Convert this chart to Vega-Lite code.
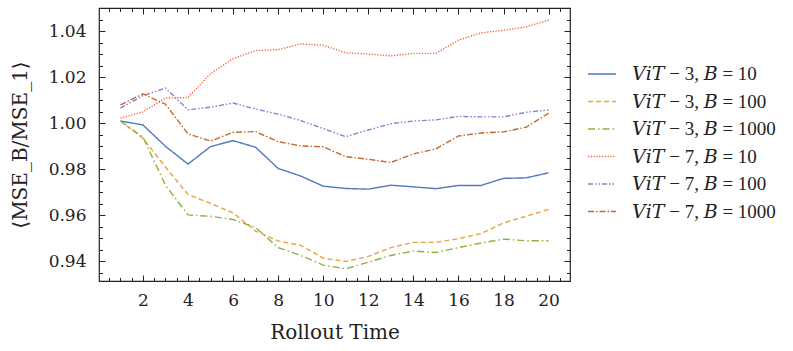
{
  "$schema": "https://vega.github.io/schema/vega-lite/v6.json",
  "width": 471,
  "height": 273,
  "autosize": {"type": "none"},
  "padding": {"left": 99, "top": 8, "right": 223, "bottom": 70},
  "background": "white",
  "config": {
    "font": "DejaVu Serif",
    "view": {"stroke": "#222222", "strokeWidth": 1.2},
    "axis": {"grid": false, "domain": false, "tickColor": "#222222", "tickWidth": 1, "labelColor": "#222222", "titleColor": "#222222", "labelFont": "DejaVu Serif", "titleFont": "DejaVu Serif", "titleFontWeight": "normal", "labelFontSize": 17, "titleFontSize": 20}
  },
  "data": {"values": [
    {"t":1,"v":1.001,"s":"𝑉𝑖𝑇 − 3, 𝐵 = 10"},{"t":2,"v":0.9993,"s":"𝑉𝑖𝑇 − 3, 𝐵 = 10"},{"t":3,"v":0.990,"s":"𝑉𝑖𝑇 − 3, 𝐵 = 10"},{"t":4,"v":0.9823,"s":"𝑉𝑖𝑇 − 3, 𝐵 = 10"},{"t":5,"v":0.9899,"s":"𝑉𝑖𝑇 − 3, 𝐵 = 10"},{"t":6,"v":0.9925,"s":"𝑉𝑖𝑇 − 3, 𝐵 = 10"},{"t":7,"v":0.9896,"s":"𝑉𝑖𝑇 − 3, 𝐵 = 10"},{"t":8,"v":0.9804,"s":"𝑉𝑖𝑇 − 3, 𝐵 = 10"},{"t":9,"v":0.9771,"s":"𝑉𝑖𝑇 − 3, 𝐵 = 10"},{"t":10,"v":0.9727,"s":"𝑉𝑖𝑇 − 3, 𝐵 = 10"},{"t":11,"v":0.9717,"s":"𝑉𝑖𝑇 − 3, 𝐵 = 10"},{"t":12,"v":0.9714,"s":"𝑉𝑖𝑇 − 3, 𝐵 = 10"},{"t":13,"v":0.9731,"s":"𝑉𝑖𝑇 − 3, 𝐵 = 10"},{"t":14,"v":0.9724,"s":"𝑉𝑖𝑇 − 3, 𝐵 = 10"},{"t":15,"v":0.9716,"s":"𝑉𝑖𝑇 − 3, 𝐵 = 10"},{"t":16,"v":0.973,"s":"𝑉𝑖𝑇 − 3, 𝐵 = 10"},{"t":17,"v":0.973,"s":"𝑉𝑖𝑇 − 3, 𝐵 = 10"},{"t":18,"v":0.9761,"s":"𝑉𝑖𝑇 − 3, 𝐵 = 10"},{"t":19,"v":0.9763,"s":"𝑉𝑖𝑇 − 3, 𝐵 = 10"},{"t":20,"v":0.9785,"s":"𝑉𝑖𝑇 − 3, 𝐵 = 10"},
    {"t":1,"v":1.001,"s":"𝑉𝑖𝑇 − 3, 𝐵 = 100"},{"t":2,"v":0.9935,"s":"𝑉𝑖𝑇 − 3, 𝐵 = 100"},{"t":3,"v":0.981,"s":"𝑉𝑖𝑇 − 3, 𝐵 = 100"},{"t":4,"v":0.9691,"s":"𝑉𝑖𝑇 − 3, 𝐵 = 100"},{"t":5,"v":0.9652,"s":"𝑉𝑖𝑇 − 3, 𝐵 = 100"},{"t":6,"v":0.9611,"s":"𝑉𝑖𝑇 − 3, 𝐵 = 100"},{"t":7,"v":0.9532,"s":"𝑉𝑖𝑇 − 3, 𝐵 = 100"},{"t":8,"v":0.9489,"s":"𝑉𝑖𝑇 − 3, 𝐵 = 100"},{"t":9,"v":0.947,"s":"𝑉𝑖𝑇 − 3, 𝐵 = 100"},{"t":10,"v":0.9414,"s":"𝑉𝑖𝑇 − 3, 𝐵 = 100"},{"t":11,"v":0.940,"s":"𝑉𝑖𝑇 − 3, 𝐵 = 100"},{"t":12,"v":0.9422,"s":"𝑉𝑖𝑇 − 3, 𝐵 = 100"},{"t":13,"v":0.946,"s":"𝑉𝑖𝑇 − 3, 𝐵 = 100"},{"t":14,"v":0.9483,"s":"𝑉𝑖𝑇 − 3, 𝐵 = 100"},{"t":15,"v":0.9483,"s":"𝑉𝑖𝑇 − 3, 𝐵 = 100"},{"t":16,"v":0.9499,"s":"𝑉𝑖𝑇 − 3, 𝐵 = 100"},{"t":17,"v":0.9521,"s":"𝑉𝑖𝑇 − 3, 𝐵 = 100"},{"t":18,"v":0.9567,"s":"𝑉𝑖𝑇 − 3, 𝐵 = 100"},{"t":19,"v":0.9596,"s":"𝑉𝑖𝑇 − 3, 𝐵 = 100"},{"t":20,"v":0.9626,"s":"𝑉𝑖𝑇 − 3, 𝐵 = 100"},
    {"t":1,"v":1.001,"s":"𝑉𝑖𝑇 − 3, 𝐵 = 1000"},{"t":2,"v":0.994,"s":"𝑉𝑖𝑇 − 3, 𝐵 = 1000"},{"t":3,"v":0.9731,"s":"𝑉𝑖𝑇 − 3, 𝐵 = 1000"},{"t":4,"v":0.9602,"s":"𝑉𝑖𝑇 − 3, 𝐵 = 1000"},{"t":5,"v":0.9596,"s":"𝑉𝑖𝑇 − 3, 𝐵 = 1000"},{"t":6,"v":0.9582,"s":"𝑉𝑖𝑇 − 3, 𝐵 = 1000"},{"t":7,"v":0.9547,"s":"𝑉𝑖𝑇 − 3, 𝐵 = 1000"},{"t":8,"v":0.946,"s":"𝑉𝑖𝑇 − 3, 𝐵 = 1000"},{"t":9,"v":0.9426,"s":"𝑉𝑖𝑇 − 3, 𝐵 = 1000"},{"t":10,"v":0.9384,"s":"𝑉𝑖𝑇 − 3, 𝐵 = 1000"},{"t":11,"v":0.9368,"s":"𝑉𝑖𝑇 − 3, 𝐵 = 1000"},{"t":12,"v":0.9397,"s":"𝑉𝑖𝑇 − 3, 𝐵 = 1000"},{"t":13,"v":0.9426,"s":"𝑉𝑖𝑇 − 3, 𝐵 = 1000"},{"t":14,"v":0.9445,"s":"𝑉𝑖𝑇 − 3, 𝐵 = 1000"},{"t":15,"v":0.9439,"s":"𝑉𝑖𝑇 − 3, 𝐵 = 1000"},{"t":16,"v":0.946,"s":"𝑉𝑖𝑇 − 3, 𝐵 = 1000"},{"t":17,"v":0.948,"s":"𝑉𝑖𝑇 − 3, 𝐵 = 1000"},{"t":18,"v":0.9497,"s":"𝑉𝑖𝑇 − 3, 𝐵 = 1000"},{"t":19,"v":0.949,"s":"𝑉𝑖𝑇 − 3, 𝐵 = 1000"},{"t":20,"v":0.949,"s":"𝑉𝑖𝑇 − 3, 𝐵 = 1000"},
    {"t":1,"v":1.0022,"s":"𝑉𝑖𝑇 − 7, 𝐵 = 10"},{"t":2,"v":1.005,"s":"𝑉𝑖𝑇 − 7, 𝐵 = 10"},{"t":3,"v":1.011,"s":"𝑉𝑖𝑇 − 7, 𝐵 = 10"},{"t":4,"v":1.0112,"s":"𝑉𝑖𝑇 − 7, 𝐵 = 10"},{"t":5,"v":1.0216,"s":"𝑉𝑖𝑇 − 7, 𝐵 = 10"},{"t":6,"v":1.0281,"s":"𝑉𝑖𝑇 − 7, 𝐵 = 10"},{"t":7,"v":1.0316,"s":"𝑉𝑖𝑇 − 7, 𝐵 = 10"},{"t":8,"v":1.032,"s":"𝑉𝑖𝑇 − 7, 𝐵 = 10"},{"t":9,"v":1.0345,"s":"𝑉𝑖𝑇 − 7, 𝐵 = 10"},{"t":10,"v":1.0339,"s":"𝑉𝑖𝑇 − 7, 𝐵 = 10"},{"t":11,"v":1.0306,"s":"𝑉𝑖𝑇 − 7, 𝐵 = 10"},{"t":12,"v":1.0301,"s":"𝑉𝑖𝑇 − 7, 𝐵 = 10"},{"t":13,"v":1.0293,"s":"𝑉𝑖𝑇 − 7, 𝐵 = 10"},{"t":14,"v":1.0304,"s":"𝑉𝑖𝑇 − 7, 𝐵 = 10"},{"t":15,"v":1.0304,"s":"𝑉𝑖𝑇 − 7, 𝐵 = 10"},{"t":16,"v":1.0361,"s":"𝑉𝑖𝑇 − 7, 𝐵 = 10"},{"t":17,"v":1.0393,"s":"𝑉𝑖𝑇 − 7, 𝐵 = 10"},{"t":18,"v":1.0404,"s":"𝑉𝑖𝑇 − 7, 𝐵 = 10"},{"t":19,"v":1.0419,"s":"𝑉𝑖𝑇 − 7, 𝐵 = 10"},{"t":20,"v":1.0448,"s":"𝑉𝑖𝑇 − 7, 𝐵 = 10"},
    {"t":1,"v":1.0066,"s":"𝑉𝑖𝑇 − 7, 𝐵 = 100"},{"t":2,"v":1.012,"s":"𝑉𝑖𝑇 − 7, 𝐵 = 100"},{"t":3,"v":1.0153,"s":"𝑉𝑖𝑇 − 7, 𝐵 = 100"},{"t":4,"v":1.0059,"s":"𝑉𝑖𝑇 − 7, 𝐵 = 100"},{"t":5,"v":1.007,"s":"𝑉𝑖𝑇 − 7, 𝐵 = 100"},{"t":6,"v":1.0088,"s":"𝑉𝑖𝑇 − 7, 𝐵 = 100"},{"t":7,"v":1.0062,"s":"𝑉𝑖𝑇 − 7, 𝐵 = 100"},{"t":8,"v":1.004,"s":"𝑉𝑖𝑇 − 7, 𝐵 = 100"},{"t":9,"v":1.0012,"s":"𝑉𝑖𝑇 − 7, 𝐵 = 100"},{"t":10,"v":0.9977,"s":"𝑉𝑖𝑇 − 7, 𝐵 = 100"},{"t":11,"v":0.9942,"s":"𝑉𝑖𝑇 − 7, 𝐵 = 100"},{"t":12,"v":0.9971,"s":"𝑉𝑖𝑇 − 7, 𝐵 = 100"},{"t":13,"v":0.9998,"s":"𝑉𝑖𝑇 − 7, 𝐵 = 100"},{"t":14,"v":1.001,"s":"𝑉𝑖𝑇 − 7, 𝐵 = 100"},{"t":15,"v":1.0015,"s":"𝑉𝑖𝑇 − 7, 𝐵 = 100"},{"t":16,"v":1.003,"s":"𝑉𝑖𝑇 − 7, 𝐵 = 100"},{"t":17,"v":1.0028,"s":"𝑉𝑖𝑇 − 7, 𝐵 = 100"},{"t":18,"v":1.0028,"s":"𝑉𝑖𝑇 − 7, 𝐵 = 100"},{"t":19,"v":1.0048,"s":"𝑉𝑖𝑇 − 7, 𝐵 = 100"},{"t":20,"v":1.0058,"s":"𝑉𝑖𝑇 − 7, 𝐵 = 100"},
    {"t":1,"v":1.008,"s":"𝑉𝑖𝑇 − 7, 𝐵 = 1000"},{"t":2,"v":1.0128,"s":"𝑉𝑖𝑇 − 7, 𝐵 = 1000"},{"t":3,"v":1.0083,"s":"𝑉𝑖𝑇 − 7, 𝐵 = 1000"},{"t":4,"v":0.9954,"s":"𝑉𝑖𝑇 − 7, 𝐵 = 1000"},{"t":5,"v":0.9923,"s":"𝑉𝑖𝑇 − 7, 𝐵 = 1000"},{"t":6,"v":0.9961,"s":"𝑉𝑖𝑇 − 7, 𝐵 = 1000"},{"t":7,"v":0.9964,"s":"𝑉𝑖𝑇 − 7, 𝐵 = 1000"},{"t":8,"v":0.992,"s":"𝑉𝑖𝑇 − 7, 𝐵 = 1000"},{"t":9,"v":0.9902,"s":"𝑉𝑖𝑇 − 7, 𝐵 = 1000"},{"t":10,"v":0.9898,"s":"𝑉𝑖𝑇 − 7, 𝐵 = 1000"},{"t":11,"v":0.9855,"s":"𝑉𝑖𝑇 − 7, 𝐵 = 1000"},{"t":12,"v":0.9844,"s":"𝑉𝑖𝑇 − 7, 𝐵 = 1000"},{"t":13,"v":0.983,"s":"𝑉𝑖𝑇 − 7, 𝐵 = 1000"},{"t":14,"v":0.9867,"s":"𝑉𝑖𝑇 − 7, 𝐵 = 1000"},{"t":15,"v":0.9889,"s":"𝑉𝑖𝑇 − 7, 𝐵 = 1000"},{"t":16,"v":0.9945,"s":"𝑉𝑖𝑇 − 7, 𝐵 = 1000"},{"t":17,"v":0.9958,"s":"𝑉𝑖𝑇 − 7, 𝐵 = 1000"},{"t":18,"v":0.9963,"s":"𝑉𝑖𝑇 − 7, 𝐵 = 1000"},{"t":19,"v":0.9983,"s":"𝑉𝑖𝑇 − 7, 𝐵 = 1000"},{"t":20,"v":1.0044,"s":"𝑉𝑖𝑇 − 7, 𝐵 = 1000"}
  ]},
  "layer": [
    {
      "mark": {"type": "line", "strokeWidth": 1.4},
      "encoding": {
        "x": {"field": "t", "type": "quantitative", "scale": {"domain": [0.05, 20.95], "nice": false, "zero": false},
              "axis": {"orient": "bottom", "values": [2,4,6,8,10,12,14,16,18,20], "tickSize": -6, "labelPadding": 17, "title": "Rollout Time", "titlePadding": 14}},
        "y": {"field": "v", "type": "quantitative", "scale": {"domain": [0.9315, 1.0501], "nice": false, "zero": false},
              "axis": {"orient": "left", "values": [0.94,0.96,0.98,1.0,1.02,1.04], "format": ".2f", "tickSize": -6, "labelPadding": 19, "title": "⟨MSE_B/MSE_1⟩", "titlePadding": 18}},
        "color": {"field": "s", "type": "nominal",
                  "scale": {"domain": ["𝑉𝑖𝑇 − 3, 𝐵 = 10","𝑉𝑖𝑇 − 3, 𝐵 = 100","𝑉𝑖𝑇 − 3, 𝐵 = 1000","𝑉𝑖𝑇 − 7, 𝐵 = 10","𝑉𝑖𝑇 − 7, 𝐵 = 100","𝑉𝑖𝑇 − 7, 𝐵 = 1000"],
                            "range": ["#5079bc","#e9a33b","#8fb03c","#f65c3a","#8a7fca","#c8692a"]},
                  "legend": {"orient": "none", "legendX": 488, "legendY": 51, "title": null, "symbolType": "stroke", "symbolSize": 784, "symbolStrokeWidth": 1.5, "labelFontSize": 19, "labelFont": "'Liberation Serif', 'DejaVu Serif', serif", "labelColor": "#222222", "labelOffset": 15, "rowPadding": 2.5, "padding": 0, "labelLimit": 300}},
        "strokeDash": {"field": "s", "type": "nominal",
                  "scale": {"domain": ["𝑉𝑖𝑇 − 3, 𝐵 = 10","𝑉𝑖𝑇 − 3, 𝐵 = 100","𝑉𝑖𝑇 − 3, 𝐵 = 1000","𝑉𝑖𝑇 − 7, 𝐵 = 10","𝑉𝑖𝑇 − 7, 𝐵 = 100","𝑉𝑖𝑇 − 7, 𝐵 = 1000"],
                            "range": [[1,0],[5,3],[7,3,1.5,3],[1.2,1.6],[5,2,1.5,2,1.5,2],[6,2,1.5,2]]},
                  "legend": {"orient": "none", "legendX": 488, "legendY": 51, "title": null, "symbolType": "stroke", "symbolSize": 784, "symbolStrokeWidth": 1.5, "labelFontSize": 19, "labelFont": "'Liberation Serif', 'DejaVu Serif', serif", "labelColor": "#222222", "labelOffset": 15, "rowPadding": 2.5, "padding": 0, "labelLimit": 300}}
      }
    },
    {
      "mark": {"type": "point", "opacity": 0},
      "encoding": {
        "x": {"field": "t", "type": "quantitative", "axis": {"orient": "bottom", "values": [0.5,1,1.5,2.5,3,3.5,4.5,5,5.5,6.5,7,7.5,8.5,9,9.5,10.5,11,11.5,12.5,13,13.5,14.5,15,15.5,16.5,17,17.5,18.5,19,19.5,20.5], "tickSize": -3.5, "labels": false, "title": null}},
        "y": {"field": "v", "type": "quantitative", "axis": {"orient": "left", "values": [0.935,0.945,0.95,0.955,0.965,0.97,0.975,0.985,0.99,0.995,1.005,1.01,1.015,1.025,1.03,1.035,1.045,1.05], "tickSize": -3.5, "labels": false, "title": null}}
      }
    },
    {
      "mark": {"type": "point", "opacity": 0},
      "encoding": {
        "x": {"field": "t", "type": "quantitative", "axis": {"orient": "top", "values": [2,4,6,8,10,12,14,16,18,20], "tickSize": -6, "labels": false, "title": null}},
        "y": {"field": "v", "type": "quantitative", "axis": {"orient": "right", "values": [0.94,0.96,0.98,1.0,1.02,1.04], "tickSize": -6, "labels": false, "title": null}}
      }
    },
    {
      "mark": {"type": "point", "opacity": 0},
      "encoding": {
        "x": {"field": "t", "type": "quantitative", "axis": {"orient": "top", "values": [0.5,1,1.5,2.5,3,3.5,4.5,5,5.5,6.5,7,7.5,8.5,9,9.5,10.5,11,11.5,12.5,13,13.5,14.5,15,15.5,16.5,17,17.5,18.5,19,19.5,20.5], "tickSize": -3.5, "labels": false, "title": null}},
        "y": {"field": "v", "type": "quantitative", "axis": {"orient": "right", "values": [0.935,0.945,0.95,0.955,0.965,0.97,0.975,0.985,0.99,0.995,1.005,1.01,1.015,1.025,1.03,1.035,1.045,1.05], "tickSize": -3.5, "labels": false, "title": null}}
      }
    }
  ],
  "resolve": {"axis": {"x": "independent", "y": "independent"}}
}
